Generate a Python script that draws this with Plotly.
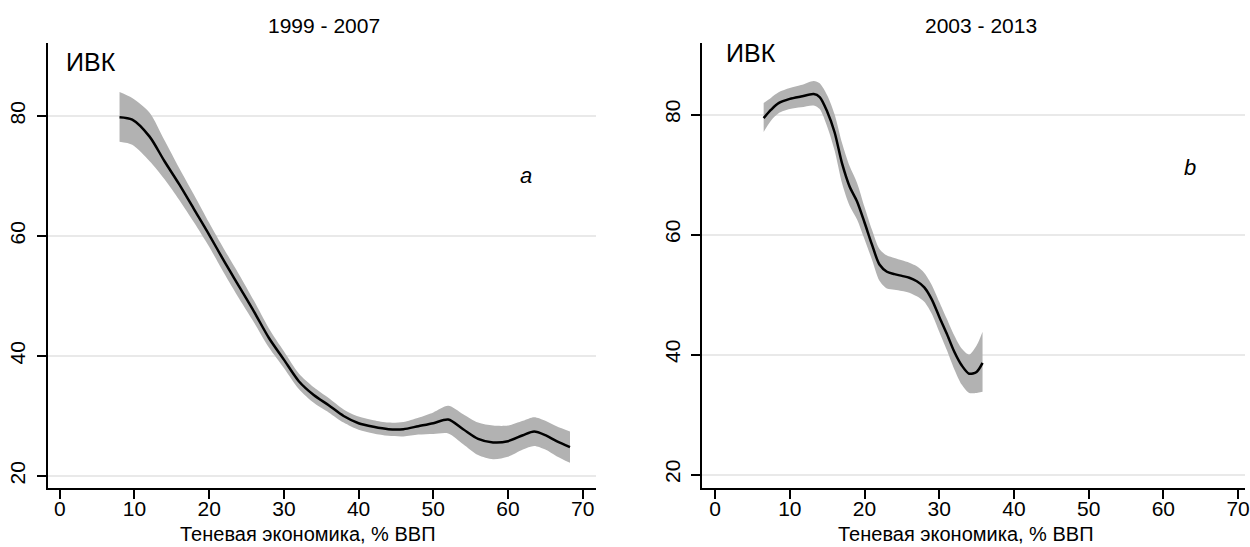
import plotly.graph_objects as go

# ---- Panel a: 1999-2007 ----
xa = [8.0, 9.7, 12, 14, 16, 18, 20, 22, 24, 26, 28, 30, 32, 34, 36, 38, 40, 42, 44, 46,
      48, 50, 52, 54, 56, 58, 60, 62, 63.5, 65, 66.5, 68.3]
ya = [79.8, 79.4, 76.6, 72.5, 68.6, 64.4, 60.2, 55.8, 51.6, 47.4, 43.0, 39.4, 35.8, 33.5,
      31.8, 30.0, 28.8, 28.2, 27.8, 27.8, 28.3, 28.8, 29.4, 27.8, 26.2, 25.6, 25.8, 26.8,
      27.4, 26.8, 25.8, 24.8]
lo_a = [75.7, 75.2, 72.5, 69.5, 66.0, 62.2, 58.2, 53.8, 49.6, 45.6, 41.4, 38.0, 34.5, 32.2,
        30.6, 28.9, 27.7, 27.1, 26.7, 26.6, 26.9, 27.0, 27.1, 25.3, 23.5, 22.8, 23.2, 24.4,
        25.0, 24.4, 23.3, 22.2]
hi_a = [84.0, 83.0, 80.6, 76.0, 71.3, 66.8, 62.2, 57.8, 53.6, 49.2, 44.6, 40.8, 37.1, 34.8,
        33.0, 31.1, 29.9, 29.3, 28.9, 29.0, 29.7, 30.6, 31.7, 30.3, 28.9, 28.4, 28.4, 29.2,
        29.8, 29.2, 28.3, 27.4]

# ---- Panel b: 2003-2013 ----
xb = [6.5, 7.5, 8.5, 10, 11.5, 13.2, 14, 15, 16, 17, 18, 19, 20, 21, 22, 23, 24, 25, 26,
      27, 28, 29, 30, 31, 32, 33, 34, 35, 35.8]
yb = [79.4, 80.8, 81.9, 82.6, 83.0, 83.4, 82.9, 80.5, 77.0, 71.8, 68.0, 65.5, 62.0, 58.3,
      55.0, 53.8, 53.4, 53.1, 52.8, 52.2, 51.2, 49.2, 46.3, 43.5, 40.5, 38.2, 36.8, 37.1, 38.6]
lo_b = [77.1, 79.0, 80.2, 80.9, 81.2, 81.5, 80.9, 78.0, 74.0, 68.5, 64.8, 62.5, 59.2, 55.8,
        52.3, 51.0, 50.8, 50.6, 50.3, 49.7, 48.8, 46.8, 43.8, 40.8, 37.6, 35.0, 33.6, 33.6, 33.8]
hi_b = [81.9, 82.8, 83.7, 84.4, 84.9, 85.6, 85.2, 83.2, 80.0, 75.2, 71.4, 68.6, 64.6, 60.8,
        57.6, 56.5, 56.1, 55.7, 55.3, 54.7, 53.6, 51.6, 48.8, 46.0, 43.2, 41.0, 40.0, 41.5, 43.8]

panel_titles = ["1999 - 2007", "2003 - 2013"]
panel_letters = ["a", "b"]
y_label = "ИВК"
x_label = "Теневая экономика, % ВВП"
x_ticks = [0, 10, 20, 30, 40, 50, 60, 70]
y_ticks = [20, 40, 60, 80]

FONT = "Liberation Sans, Arial, sans-serif"
BAND = "#b2b2b2"

fig = go.Figure()
panels = [(xa, ya, lo_a, hi_a, "x", "y"), (xb, yb, lo_b, hi_b, "x2", "y2")]
for xs, ys, lo, hi, xr, yr in panels:
    fig.add_trace(go.Scatter(x=xs, y=lo, mode="lines",
                             line=dict(width=0, color=BAND, shape="spline", smoothing=0.8),
                             xaxis=xr, yaxis=yr, showlegend=False, hoverinfo="skip"))
    fig.add_trace(go.Scatter(x=xs, y=hi, mode="lines",
                             line=dict(width=0, color=BAND, shape="spline", smoothing=0.8),
                             fill="tonexty", fillcolor=BAND,
                             xaxis=xr, yaxis=yr, showlegend=False, hoverinfo="skip"))
    fig.add_trace(go.Scatter(x=xs, y=ys, mode="lines",
                             line=dict(width=2.5, color="black", shape="spline", smoothing=0.8),
                             xaxis=xr, yaxis=yr, showlegend=False))

W, H = 1250, 547
y_dom = [(H - 488) / H, (H - 42.5) / H]
ax_common = dict(showline=True, linecolor="black", linewidth=2, ticks="outside",
                 ticklen=9, tickwidth=2, tickcolor="black", zeroline=False,
                 tickfont=dict(family=FONT, size=21, color="black"))

fig.update_layout(
    width=W, height=H,
    margin=dict(l=0, r=0, t=0, b=0),
    paper_bgcolor="white", plot_bgcolor="white",
    xaxis=dict(domain=[48 / W, 598 / W], range=[-1.6, 71.73], tickvals=x_ticks,
               showgrid=False, anchor="y", ticklabelstandoff=-8,
               ticklabeloverflow="allow", **ax_common),
    yaxis=dict(domain=y_dom, range=[18.0, 92.25], tickvals=y_ticks, tickangle=-90,
               showgrid=True, gridcolor="#e9e9e9", gridwidth=1.5, anchor="x",
               ticklabelstandoff=3, **ax_common),
    xaxis2=dict(domain=[705 / W, 1.0], range=[-1.73, 70.93], tickvals=x_ticks,
                showgrid=False, anchor="y2", ticklabelstandoff=-8,
                ticklabeloverflow="allow", **ax_common),
    yaxis2=dict(domain=y_dom, range=[17.75, 92.0], tickvals=y_ticks, tickangle=-90,
                showgrid=True, gridcolor="#e9e9e9", gridwidth=1.5, anchor="x2",
                ticklabelstandoff=3, **ax_common),
)

def ann(text, x, y, size, italic=False, xanchor="center"):
    fig.add_annotation(text=text, x=x / W, y=1 - y / H, xref="paper", yref="paper",
                       xanchor=xanchor, yanchor="middle", showarrow=False,
                       font=dict(family=FONT, size=size, color="black",
                                 style="italic" if italic else "normal"))

ann(panel_titles[0], 325, 26, 21)
ann(panel_titles[1], 985, 26, 21)
ann(y_label, 64, 62, 25, xanchor="left")
ann(y_label, 727, 53, 25, xanchor="left")
ann(panel_letters[0], 528, 175, 22, italic=True)
ann(panel_letters[1], 1195, 167, 22, italic=True)
ann(x_label, 309, 534, 20)
ann(x_label, 970, 534, 20)

fig.write_html("out.html", config={"displayModeBar": False},
               post_script="document.body.style.margin='0';document.body.style.overflow='hidden';")
